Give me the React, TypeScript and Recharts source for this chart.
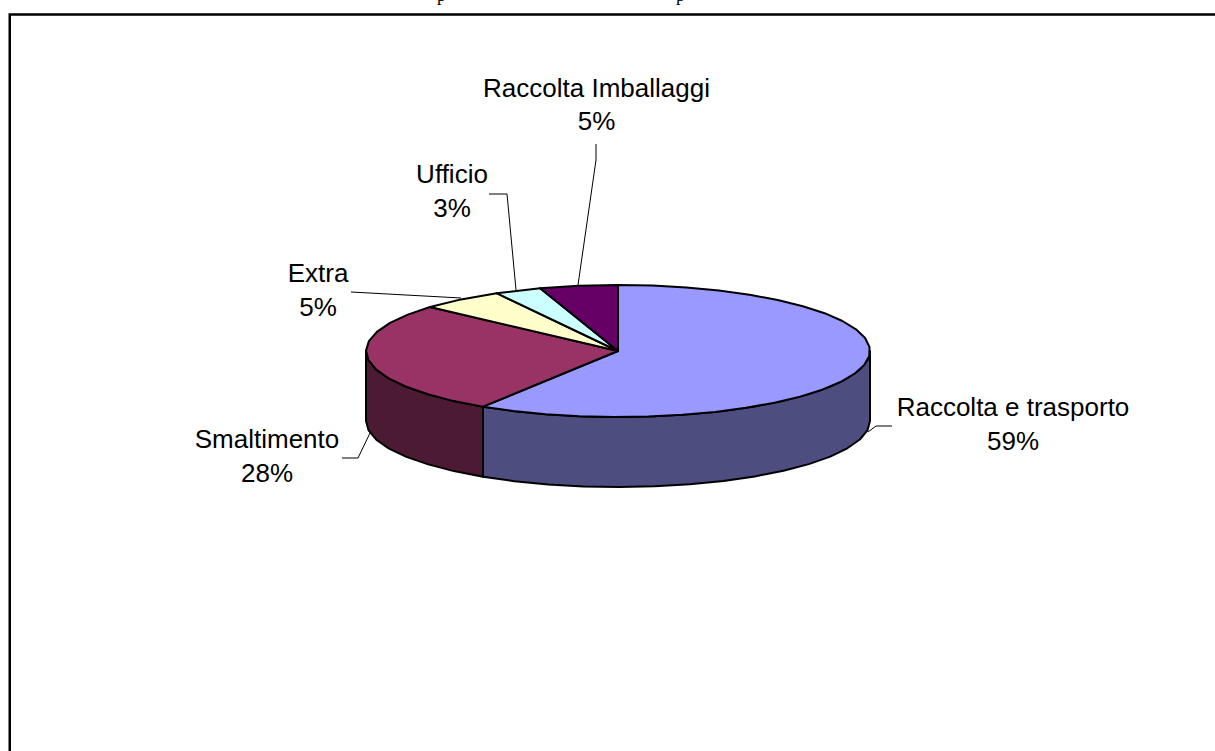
import React from "react";
import { PieChart, Pie } from "recharts";

const categories = ["Raccolta e trasporto", "Smaltimento", "Extra", "Ufficio", "Raccolta Imballaggi"];
const shares = [59, 27.6, 5.4, 3, 5];
const topColors = ["#9999FF", "#993366", "#FFFFCC", "#CCFFFF", "#660066"];
const sideColors = ["#4D4D80", "#4D1A33", "#808066", "#668080", "#330033"];

// label layout, relative to the pie centre: text centre, first and second baseline, leader polyline
const labelLayout = [
  { tx: 395, b1: 65, b2: 99, line: [[250, 81], [258, 75], [274, 75]] },
  { tx: -351, b1: 97, b2: 131, line: [[-248, 82], [-260, 107], [-276, 107]] },
  { tx: -300, b1: -69, b2: -35, line: [[-157, -53], [-267, -59]] },
  { tx: -166, b1: -168, b2: -134, line: [[-102, -61], [-111, -157], [-129, -157]] },
  { tx: -21.5, b1: -254, b2: -221, line: [[-40, -66], [-22, -191], [-22, -207]] },
];

const TILT = 66 / 252;
const DEPTH = 70;
const STEP = 8;
const RAD = Math.PI / 180;

const data = categories.map((name, i) => ({
  name,
  value: shares[i],
  top: topColors[i],
  side: sideColors[i],
}));

function arcPoints(cx: number, cy: number, r: number, from: number, to: number, dy = 0) {
  const pts: string[] = [];
  const n = Math.max(1, Math.round(Math.abs(to - from) / STEP));
  for (let i = 0; i <= n; i++) {
    const a = (from + ((to - from) * i) / n) * RAD;
    pts.push(`${(cx + r * Math.cos(a)).toFixed(1)},${(cy - r * TILT * Math.sin(a) + dy).toFixed(1)}`);
  }
  return pts;
}

function PieSlice3D(props: any) {
  const { cx, cy, outerRadius: r, startAngle, endAngle, top, side } = props;
  const wallFrom = Math.min(startAngle, 0);
  const wallTo = Math.max(endAngle, -180);
  const hasWall = wallFrom > wallTo;
  const upper = hasWall ? arcPoints(cx, cy, r, wallFrom, wallTo) : [];
  const lower = hasWall ? arcPoints(cx, cy, r, wallTo, wallFrom, DEPTH) : [];
  const rim = arcPoints(cx, cy, r, startAngle, endAngle);
  return (
    <g>
      {hasWall && (
        <polygon
          points={[...upper, ...lower].join(" ")}
          fill={side}
          stroke="#000"
          strokeWidth={2}
          strokeLinejoin="round"
        />
      )}
      <polygon
        points={[`${cx},${cy}`, ...rim].join(" ")}
        fill={top}
        stroke="#000"
        strokeWidth={2}
        strokeLinejoin="round"
      />
    </g>
  );
}

function SliceLabel(props: any) {
  const { cx, cy, index, name, percent } = props;
  const l = labelLayout[index];
  return (
    <text
      textAnchor="middle"
      fontFamily="'Liberation Sans', Arial, sans-serif"
      fontSize={26}
      fill="#000"
    >
      <tspan x={cx + l.tx} y={cy + l.b1}>{name}</tspan>
      <tspan x={cx + l.tx} y={cy + l.b2}>{`${Math.round(percent * 100)}%`}</tspan>
    </text>
  );
}

function LeaderLine(props: any) {
  const { cx, cy, index } = props;
  const l = labelLayout[index];
  return (
    <polyline
      points={l.line.map(([x, y]) => `${cx + x},${cy + y}`).join(" ")}
      fill="none"
      stroke="#000"
      strokeWidth={1}
    />
  );
}

export default function App() {
  return (
    <div style={{ position: "absolute", left: 0, top: 0, width: 1215, height: 751, overflow: "hidden", background: "#fff" }}>
      <svg width={1215} height={751} style={{ position: "absolute", left: 0, top: 0 }}>
        <text x={437} y={0.5} fontFamily="'Liberation Serif', serif" fontSize={18} fill="#000">p</text>
        <text x={676} y={0.5} fontFamily="'Liberation Serif', serif" fontSize={18} fill="#000">p</text>
        <path d="M9.75 751 V14.5 H1215" fill="none" stroke="#000" strokeWidth={2.5} />
      </svg>
      <div style={{ position: "absolute", left: 0, top: 0 }}>
        <PieChart width={1215} height={751} margin={{ top: 0, right: 0, bottom: 0, left: 0 }}>
          <Pie
            data={data}
            dataKey="value"
            nameKey="name"
            cx={618}
            cy={351}
            innerRadius={0}
            outerRadius={252}
            startAngle={90}
            endAngle={-270}
            paddingAngle={0}
            shape={PieSlice3D}
            label={SliceLabel}
            labelLine={LeaderLine}
            isAnimationActive={false}
          />
        </PieChart>
      </div>
    </div>
  );
}
